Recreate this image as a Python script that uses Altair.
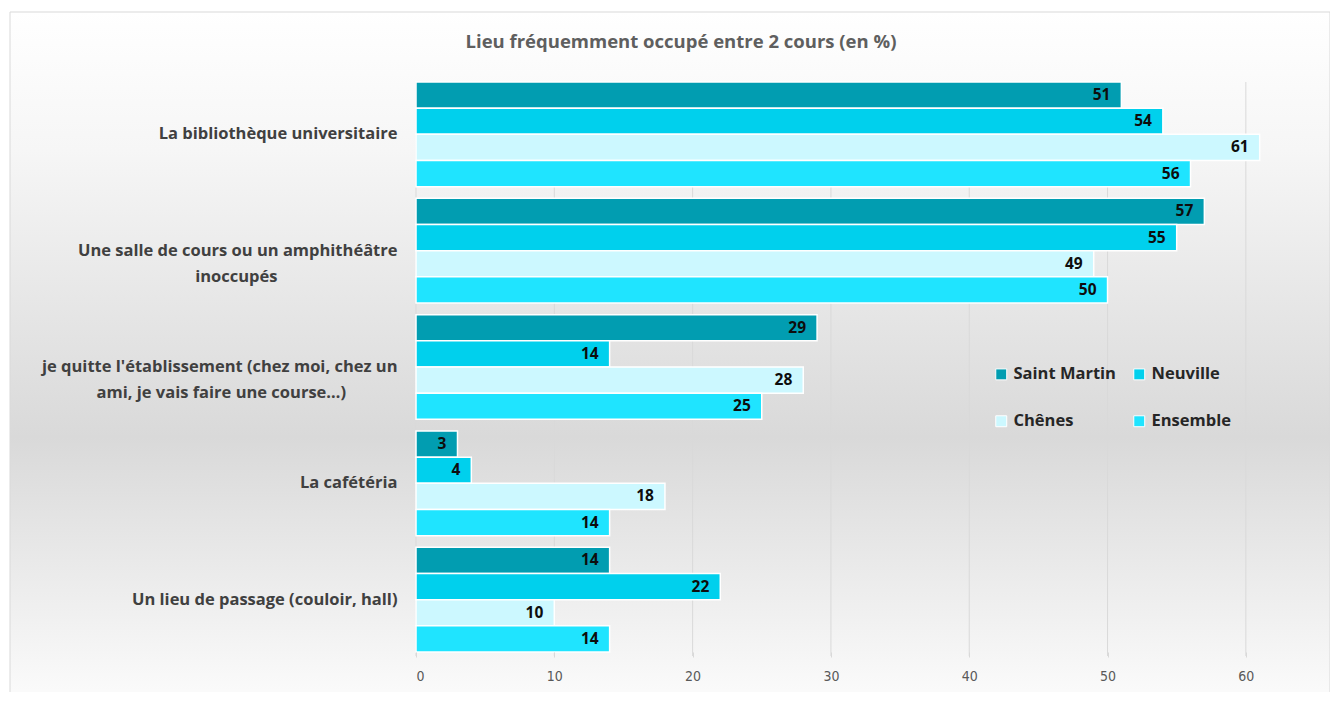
import altair as alt
import pandas as pd

NB = "\u00a0"
ZW = "\u200b"
categories = [
    "La bibliothèque universitaire",
    "Une salle de cours ou un amphithéâtre|inoccupés" + NB * 28 + ZW,
    "je quitte l'établissement (chez moi, chez un|ami, je vais faire une course…)" + NB * 12 + ZW,
    "La cafétéria",
    "Un lieu de passage (couloir, hall)",
]
series = ["Saint Martin", "Neuville", "Chênes", "Ensemble"]
saint_martin = [51, 57, 29, 3, 14]
neuville = [54, 55, 14, 4, 22]
chenes = [61, 49, 28, 18, 10]
ensemble = [56, 50, 25, 14, 14]
colors = ["#019DB1", "#00D0ED", "#CCF8FF", "#1FE4FF"]
x_ticks = [0, 10, 20, 30, 40, 50, 60]
title_text = "Lieu fréquemment occupé entre 2 cours (en %)"

values_by_series = [saint_martin, neuville, chenes, ensemble]
rows = []
for s, vals in zip(series, values_by_series):
    for c, v in zip(categories, vals):
        rows.append({"cat": c, "series": s, "value": v})
df = pd.DataFrame(rows)

W, H = 899, 570

xscale = alt.Scale(domain=[0, 65], nice=False, zero=True)

bg = alt.Chart(pd.DataFrame({"d": [0]})).mark_rect(
    fill=alt.Gradient(
        gradient="linear", x1=0, x2=0, y1=0, y2=1,
        stops=[
            alt.GradientStop(offset=0, color="#ffffff"),
            alt.GradientStop(offset=0.2, color="#f6f6f6"),
            alt.GradientStop(offset=0.62, color="#d9d9d9"),
            alt.GradientStop(offset=1, color="#fbfbfb"),
        ],
    ),
    stroke="#d9d9d9",
    strokeWidth=1,
).encode(x=alt.value(-406), x2=alt.value(914), y=alt.value(-70), y2=alt.value(616))

title = alt.Chart(pd.DataFrame({"d": [0]})).mark_text(
    text=title_text, font="Open Sans", fontSize=18.5, fontWeight="bold",
    color="#5f5f5f", align="center", baseline="middle",
).encode(x=alt.value(265), y=alt.value(-40))

grid = alt.Chart(pd.DataFrame({"t": x_ticks})).mark_rule(color="#d9d9d9", strokeWidth=1).encode(
    x=alt.X("t:Q", scale=xscale),
    y=alt.value(0),
    y2=alt.value(H + 4),
)

base = alt.Chart(df).encode(
    y=alt.Y(
        "cat:N",
        sort=categories,
        scale=alt.Scale(paddingInner=0.1, paddingOuter=0.0),
        axis=alt.Axis(
            title=None,
            labelExpr="split(datum.label, '|')",
            labelFont="Open Sans",
            labelFontSize=16.5,
            labelFontWeight="bold",
            labelColor="#404040",
            labelPadding=19,
            labelLineHeight=26,
            labelLimit=460,
            ticks=False,
            domain=False,
            zindex=2,
        ),
    ),
    yOffset=alt.YOffset("series:N", sort=series, scale=alt.Scale(paddingInner=0, paddingOuter=0)),
    x=alt.X(
        "value:Q",
        scale=xscale,
        axis=alt.Axis(
            title=None,
            values=x_ticks,
            grid=False,
            domain=False,
            ticks=True,
            tickColor="#d9d9d9",
            tickSize=5,
            labelFont="DejaVu Sans Condensed",
            labelFontSize=14,
            labelColor="#595959",
            labelPadding=12,
            zindex=2,
        ),
    ),
)

bars = base.mark_bar(stroke="white", strokeWidth=1.5).encode(
    color=alt.Color(
        "series:N",
        sort=series,
        scale=alt.Scale(domain=series, range=colors),
        legend=alt.Legend(
            title=None,
            orient="none",
            legendX=577,
            legendY=284,
            columns=2,
            direction="horizontal",
            symbolType="square",
            symbolSize=120,
            symbolStrokeColor="white",
            symbolStrokeWidth=1,
            labelFont="Open Sans",
            labelFontSize=16.5,
            labelFontWeight="bold",
            labelColor="#262626",
            labelLimit=200,
            rowPadding=30,
            columnPadding=15,
            zindex=2,
        ),
    )
)

labels = base.mark_text(
    align="right", baseline="middle", dx=-11, fontSize=15.5, fontWeight="bold",
    font="Open Sans", color="#0d0d0d",
).encode(text="value:Q")

chart = alt.layer(bg, title, grid, bars, labels).properties(
    width=W,
    height=H,
    autosize=alt.AutoSizeParams(type="none"),
    padding={"left": 408, "top": 74, "right": 15, "bottom": 40},
).configure_view(stroke=None).configure(background="white")

chart.save("out.html", embed_options={"renderer": "svg", "actions": False})
